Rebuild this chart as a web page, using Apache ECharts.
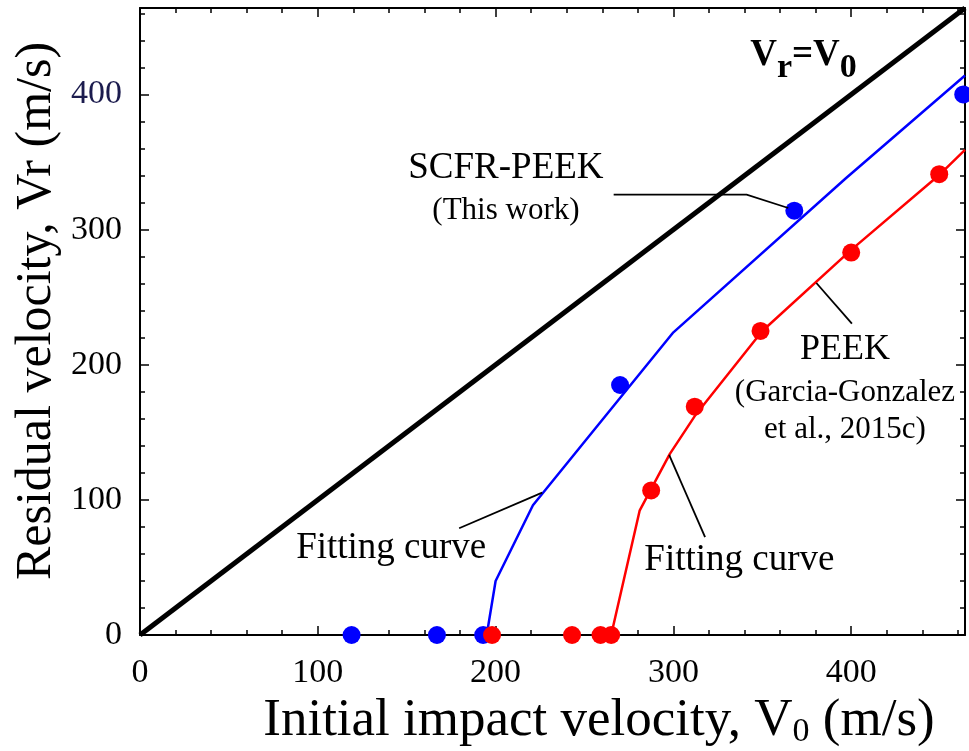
<!DOCTYPE html>
<html>
<head>
<meta charset="utf-8">
<script src="https://cdn.jsdelivr.net/npm/echarts@6/dist/echarts.min.js"></script>
<style>
html, body { margin: 0; padding: 0; background: #fff; }
#main { width: 969px; height: 751px; }
</style>
</head>
<body>
<div id="main"></div>
<script>
// data (m/s)
var axisMax = 464;
var tickLabels = [0, 100, 200, 300, 400];

var scfrPoints = [[119, 0], [167, 0], [193, 0], [270, 185], [368, 314], [463, 400]];
var peekPoints = [[198, 0], [243, 0], [259, 0], [265, 0], [287.5, 107], [312, 169], [349, 225], [400, 283], [449.5, 341]];

var scfrFit = [[195, 0], [200, 40], [221, 96], [300, 224], [397, 338], [464, 414]];
var peekFit = [[265, 0], [281, 92], [298, 134], [312, 162], [350, 225], [400, 285], [450, 341], [464, 359]];
var identityLine = [[0, 0], [464, 464]];

// annotations, anchored in data coordinates
var leaders = [
    [[266.4, 325.9], [341.2, 325.9], [364.6, 316]],
    [[179.5, 79], [226.2, 105.4]],
    [[380.4, 260.5], [400.4, 230.4]],
    [[297.6, 133.3], [317.8, 72.4]]
];
var notes = [
    {text: 'SCFR-PEEK', at: [205.8, 345.5], size: 37},
    {text: '(This work)', at: [205.8, 314], size: 31},
    {text: 'Fitting curve', at: [141.3, 64.4], size: 37},
    {text: 'Fitting curve', at: [337.1, 55.6], size: 37},
    {text: 'PEEK', at: [396.5, 211], size: 36},
    {text: '(Garcia-Gonzalez', at: [396.5, 179.3], size: 31},
    {text: 'et al., 2015c)', at: [396.5, 151.9], size: 31}
];

var FONT = '"Liberation Serif", "Times New Roman", serif';

function makeAxis(position, interval, tickLen, withLabel) {
    var ax = {
        type: 'value',
        position: position,
        min: 0,
        max: axisMax,
        interval: interval,
        axisLine: {show: !!withLabel, onZero: false, lineStyle: {color: '#000', width: 2}},
        axisTick: {show: true, inside: true, length: tickLen, lineStyle: {color: '#000', width: 1.5}},
        axisLabel: {show: false},
        splitLine: {show: false}
    };
    if (withLabel === 'label') {
        ax.axisLabel = {
            show: true,
            fontFamily: FONT,
            fontSize: 34,
            color: '#000',
            margin: (position === 'left') ? 18 : 21,
            formatter: function (v) {
                if (tickLabels.indexOf(v) < 0) return '';
                if (v === 400 && position === 'left') return '{n|400}';
                return String(v);
            },
            rich: {n: {fontFamily: FONT, fontSize: 34, color: '#1c1c4e'}}
        };
    }
    return ax;
}

var chart = echarts.init(document.getElementById('main'));

chart.setOption({
    backgroundColor: '#fff',
    animation: false,
    grid: {left: 140, right: 4, top: 8, bottom: 116, containLabel: false},
    xAxis: [
        makeAxis('bottom', 100, 9, 'label'),
        makeAxis('bottom', 20, 5, false),
        makeAxis('top', 100, 9, true),
        makeAxis('top', 20, 5, false)
    ],
    yAxis: [
        makeAxis('left', 100, 9, 'label'),
        makeAxis('left', 20, 5, false),
        makeAxis('right', 100, 9, true),
        makeAxis('right', 20, 5, false)
    ],
    series: [
        {type: 'line', data: identityLine, symbol: 'none', lineStyle: {color: '#000', width: 5}, z: 2},
        {type: 'line', data: scfrFit, symbol: 'none', lineStyle: {color: '#0000ff', width: 2.5}, z: 3},
        {type: 'line', data: peekFit, symbol: 'none', lineStyle: {color: '#ff0000', width: 2.5}, z: 3},
        {type: 'scatter', data: scfrPoints, symbol: 'circle', symbolSize: 18, itemStyle: {color: '#0000ff', opacity: 1}, z: 4},
        {type: 'scatter', data: peekPoints, symbol: 'circle', symbolSize: 18, itemStyle: {color: '#ff0000', opacity: 1}, z: 5}
    ]
});

function px(p) {
    return chart.convertToPixel({xAxisIndex: 0, yAxisIndex: 0}, p);
}

var elems = [];
leaders.forEach(function (pts) {
    elems.push({
        type: 'polyline',
        shape: {points: pts.map(px)},
        style: {stroke: '#000', lineWidth: 1.8, fill: null},
        z: 10
    });
});
notes.forEach(function (n) {
    var p = px(n.at);
    elems.push({
        type: 'text',
        x: p[0], y: p[1],
        style: {text: n.text, fontFamily: FONT, fontSize: n.size, fill: '#000', align: 'center', verticalAlign: 'middle'},
        z: 10
    });
});

// V_r = V_0 label
var vp = px([343.2, 428.9]);
elems.push({
    type: 'text',
    x: vp[0], y: vp[1],
    style: {
        text: '{v|V}{s|r}{v|=V}{s|0}',
        align: 'left', verticalAlign: 'middle',
        rich: {
            v: {fontFamily: FONT, fontSize: 37, fontWeight: 'bold', fill: '#000', color: '#000'},
            s: {fontFamily: FONT, fontSize: 34, fontWeight: 'bold', fill: '#000', color: '#000', padding: [26, 0, 0, 0]}
        }
    },
    z: 10
});

// axis titles
elems.push({
    type: 'text',
    x: 599, y: 721,
    style: {
        text: '{a|Initial impact velocity, V}{s|0}{a| (m/s)}',
        align: 'center', verticalAlign: 'middle',
        rich: {
            a: {fontFamily: FONT, fontSize: 53, color: '#000', fill: '#000'},
            s: {fontFamily: FONT, fontSize: 34, color: '#000', fill: '#000', padding: [22, 0, 0, 0]}
        }
    }
});
elems.push({
    type: 'text',
    x: 37, y: 311,
    rotation: Math.PI / 2,
    style: {
        text: 'Residual velocity, Vr (m/s)',
        fontFamily: FONT, fontSize: 50, fill: '#000',
        align: 'center', verticalAlign: 'middle'
    }
});

chart.setOption({graphic: elems});
window.onresize = chart.resize;
</script>
</body>
</html>
